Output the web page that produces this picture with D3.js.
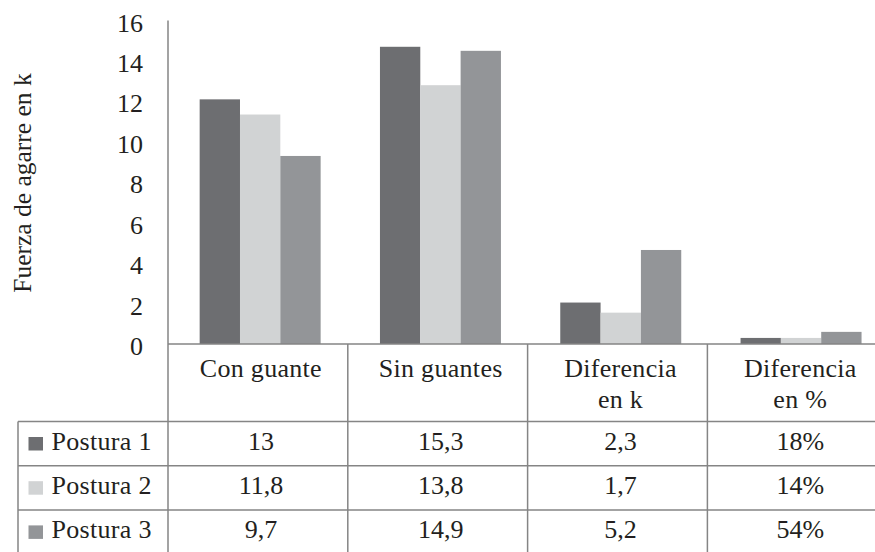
<!DOCTYPE html>
<html>
<head>
<meta charset="utf-8">
<script src="https://cdn.jsdelivr.net/npm/d3@7"></script>
<style>
  html, body { margin: 0; padding: 0; background: #fff; }
  svg { display: block; }
  text { font-family: "Liberation Serif", "Times New Roman", serif; fill: #231f20; }
</style>
</head>
<body>
<svg id="chart" width="875" height="552"></svg>
<script>
// ---- data ----
const categories = ["Con guante", "Sin guantes", "Diferencia en k", "Diferencia en %"];
const headerLines = [["Con guante"], ["Sin guantes"], ["Diferencia", "en k"], ["Diferencia", "en %"]];
const seriesNames = ["Postura 1", "Postura 2", "Postura 3"];
const seriesColors = ["#6d6e71", "#d1d3d4", "#939598"];
// bar heights as drawn in the picture
const postura1 = [12.1, 14.7, 2.05, 0.3];
const postura2 = [11.35, 12.8, 1.55, 0.3];
const postura3 = [9.3, 14.5, 4.65, 0.6];
// values printed in the data table
const tablePostura1 = ["13", "15,3", "2,3", "18%"];
const tablePostura2 = ["11,8", "13,8", "1,7", "14%"];
const tablePostura3 = ["9,7", "14,9", "5,2", "54%"];
const yTicks = [0, 2, 4, 6, 8, 10, 12, 14, 16];
const yTitle = "Fuerza de agarre en k";

const barValues = [postura1, postura2, postura3];
const tableValues = [tablePostura1, tablePostura2, tablePostura3];

const svg = d3.select("#chart");
const FS = 26;
const lineColor = "#858585";

// scales
const y = d3.scaleLinear().domain([0, 16]).range([344, 20.5]);
const xBars = d3.scaleBand().domain(categories).range([170, 170 + 4 * 180.3]).paddingInner(0.329).paddingOuter(0.1645);
const xSeries = d3.scaleBand().domain(seriesNames).range([0, xBars.bandwidth()]);
const xCols = d3.scaleBand().domain(categories).range([168, 168 + 4 * 179.8]);
const rows = d3.scaleBand().domain(seriesNames).range([421.5, 421.5 + 3 * 44.2]);
const tableLeft = 18;
const tableRight = xCols.range()[1];
const tableBottom = rows.range()[1];

// bars
const groups = svg.append("g").selectAll("g")
  .data(categories).join("g")
  .attr("transform", d => `translate(${xBars(d)},0)`);
groups.selectAll("rect")
  .data((c, ci) => seriesNames.map((s, si) => ({ s, si, v: barValues[si][ci] })))
  .join("rect")
  .attr("x", d => xSeries(d.s))
  .attr("width", xSeries.bandwidth())
  .attr("y", d => y(d.v))
  .attr("height", d => y(0) - y(d.v))
  .attr("fill", d => seriesColors[d.si]);

// y axis labels
const yAxis = d3.axisLeft(y).tickValues(yTicks).tickSize(0).tickPadding(0);
const ag = svg.append("g").attr("transform", "translate(143,0)").call(yAxis);
ag.select(".domain").remove();
ag.selectAll("text")
  .attr("font-size", FS)
  .attr("font-family", "Liberation Serif")
  .attr("fill", "#231f20")
  .attr("dy", null)
  .attr("y", 10.5)
  .attr("x", 0);

// y title
svg.append("text")
  .attr("transform", `translate(31,183) rotate(-90)`)
  .attr("text-anchor", "middle")
  .attr("font-size", 25.5)
  .text(yTitle);

// table lines
const lines = svg.append("g").attr("stroke", lineColor).attr("stroke-width", 1.5).attr("fill", "none");
// axis line (y axis continues down as table column border)
lines.append("line").attr("x1", 168).attr("x2", 168).attr("y1", y(16)).attr("y2", tableBottom);
// baseline
lines.append("line").attr("x1", 168).attr("x2", tableRight).attr("y1", y(0)).attr("y2", y(0));
// column separators
categories.forEach(c => {
  const xr = xCols(c) + xCols.bandwidth();
  lines.append("line").attr("x1", xr).attr("x2", xr).attr("y1", y(0)).attr("y2", tableBottom);
});
// left border of table
lines.append("line").attr("x1", tableLeft).attr("x2", tableLeft).attr("y1", rows.range()[0]).attr("y2", tableBottom);
// row lines
seriesNames.forEach(s => {
  lines.append("line").attr("x1", tableLeft).attr("x2", tableRight).attr("y1", rows(s)).attr("y2", rows(s));
});
lines.append("line").attr("x1", tableLeft).attr("x2", tableRight).attr("y1", tableBottom).attr("y2", tableBottom);

// header text
categories.forEach((c, ci) => {
  const cx = xCols(c) + xCols.bandwidth() / 2 + 3;
  headerLines[ci].forEach((ln, li) => {
    svg.append("text")
      .attr("x", cx).attr("y", 377 + li * 31)
      .attr("text-anchor", "middle")
      .attr("font-size", FS)
      .attr("letter-spacing", "0.3px")
      .text(ln);
  });
});

// table rows
seriesNames.forEach((s, si) => {
  const base = rows(s) + 28.5;
  svg.append("rect")
    .attr("x", 28.5).attr("y", rows(s) + 15.5)
    .attr("width", 14.5).attr("height", 13.5)
    .attr("fill", seriesColors[si]);
  svg.append("text")
    .attr("x", 51.5).attr("y", base)
    .attr("font-size", FS)
    .attr("letter-spacing", "0.3px")
    .text(s);
  categories.forEach((c, ci) => {
    svg.append("text")
      .attr("x", xCols(c) + xCols.bandwidth() / 2 + 3).attr("y", base)
      .attr("text-anchor", "middle")
      .attr("font-size", FS)
      .text(tableValues[si][ci]);
  });
});
</script>
</body>
</html>
